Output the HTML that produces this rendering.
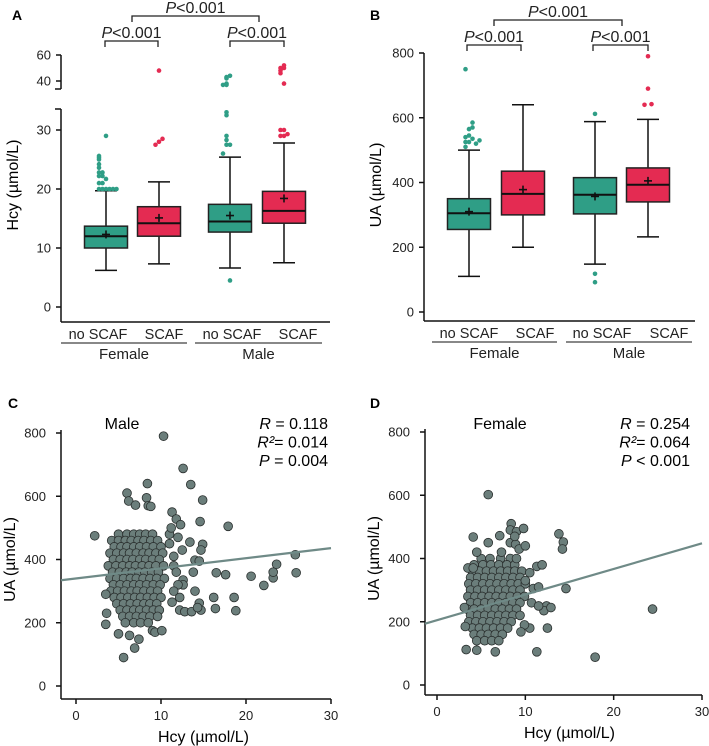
<!DOCTYPE html>
<html><head><meta charset="utf-8"><style>
body{margin:0;background:#fff}
svg{display:block;font-family:"Liberation Sans",Arial,sans-serif}
</style></head><body>
<svg id="fig" width="709" height="746" viewBox="0 0 709 746" xmlns="http://www.w3.org/2000/svg">
<g id="pA"></g>
<g id="pB"></g>
<g id="pC"></g>
<g id="pD"></g>
</svg>
<script>
// ---------- Data ----------
const groups = ["no SCAF","SCAF","no SCAF","SCAF"];
const sexes = ["Female","Male"];
const boxColors = ["#2f9e86","#e42b52","#2f9e86","#e42b52"];
// Panel A: Hcy  [whiskerLow, q1, median, q3, whiskerHigh, mean]
const hcyStats = [[6.2,10,12,13.7,19.7,12.3],[7.3,12,14.2,17,21.2,15.1],[6.6,12.7,14.5,17.4,25.4,15.5],[7.5,14.2,16.3,19.6,27.8,18.4]];
const hcyOutliers = [
 [20,20,20,20,20,20,21,21,21.7,22.2,22.2,22.8,22.8,23.6,24.2,25,25.3,25.6,29],
 [27.5,28,28.5,48],
 [4.5,26,27.5,27.5,28.3,29,32.5,33,37,37,38,42,43,44],
 [29,29,29.3,30,30,38,46,48,50,50,52]
];
const hcyJitter = [
 [-2,-1,0,1,2,3,-2,-1,0,-2,-1,-2,-1,-2,-2,-2,-2,-2,0],
 [-1,0,1,0],
 [0,-2,-1,0,-1,-1,-1,-1,-2,-1,-1,-1,-1,0],
 [-1,0,1,-1,0,0,-1,-1,-1,0,0]
];
// Panel B: UA
const uaStats = [[110,255,305,350,500,310],[200,300,365,435,640,378],[148,303,362,415,588,357],[232,340,393,445,595,405]];
const uaOutliers = [
 [510,520,525,525,530,535,540,545,565,570,585,750],
 [],
 [92,118,612],
 [640,642,690,790]
];
const uaJitter = [
 [-1,2,-1,0,3,1,-1,0,0,1,1,-1],
 [],
 [0,0,0],
 [-1,1,0,0]
];
// Panel C: male scatter
const maleHcy = [5,6,6.8,7.5,8.2,9, 4.2,5,5.8,6.5,7.3,8,8.8,9.6, 4.5,5.3,6,6.8,7.5,8.3,9.1,10, 4,4.8,5.6,6.3,7.1,7.9,8.6,9.4,10.2, 4.4,5.2,6,6.7,7.5,8.2,9,9.8, 3.8,4.7,5.5,6.3,7,7.8,8.6,9.4,10.3, 4.3,5.1,5.9,6.6,7.4,8.1,8.9,9.7, 4,4.8,5.6,6.4,7.1,7.9,8.7,9.5,10.4, 4.4,5.2,6,6.8,7.5,8.3,9.1,9.9, 4.1,4.9,5.7,6.5,7.2,8,8.8,9.6, 4.5,5.3,6.1,6.9,7.6,8.4,9.2,10, 4.8,5.6,6.4,7.2,8,8.7,9.5, 5.2,6,6.8,7.5,8.3,9.1,9.8, 5.5,6.3,7.1,7.9,8.7,9.6, 5.8,6.8,7.6,8.5,
 2.2,3.5,3.6,3.5,5.6,6.9,7.4,5.0,6.3,9.0,9.3,10.1,6.0,6.2,7.0,8.4,8.3,8.5,8.8,10.3,12.6,13.5,14.9,11.3,11.8,14.6,17.9,12.3,12,13.4,14.9,14.7,12.5,14,14.5,11.5,13.8,12.6,12.6,11.3,12.2,12.8,13.6,14.7,14.5,14.3,14,16.2,16.4,16.5,17.6,18.6,18.8,20.6,22.1,23.2,23.2,23.6,25.8,25.9,11,11,11.5,11.8,12,12.2,11.5,11.2];
const maleUA = [480,480,480,480,480,480, 460,460,460,460,460,460,460,460, 440,440,440,440,440,440,440,440, 420,420,420,420,420,420,420,420,420, 400,400,400,400,400,400,400,400, 380,380,380,380,380,380,380,380,380, 360,360,360,360,360,360,360,360, 340,340,340,340,340,340,340,340,340, 320,320,320,320,320,320,320,320, 300,300,300,300,300,300,300,300, 280,280,280,280,280,280,280,280, 260,260,260,260,260,260,260, 240,240,240,240,240,240,240, 220,220,220,220,220,220, 200,200,200,200,
 475,290,230,195,90,120,148,165,160,175,170,175,610,585,572,640,595,570,568,790,688,637,588,550,528,520,505,510,470,455,448,430,430,398,395,410,360,335,320,265,240,235,235,240,262,248,300,280,245,358,352,280,238,347,318,342,360,385,415,358,480,450,380,360,320,280,300,500];
// Panel D: female scatter
const femHcy = [5,6,7.2,8.3, 4.2,5.2,6.1,7,7.9,8.8, 4,4.8,5.6,6.4,7.2,8,8.8,9.6, 3.8,4.6,5.4,6.2,7,7.8,8.6,9.4, 3.6,4.4,5.2,6,6.8,7.6,8.4,9.2,10, 3.8,4.6,5.4,6.2,7,7.8,8.6,9.4, 3.5,4.3,5.1,5.9,6.7,7.5,8.3,9.1,9.9, 3.8,4.6,5.4,6.2,7,7.8,8.6,9.4, 3.4,4.2,5,5.8,6.6,7.4,8.2,9, 3.8,4.6,5.4,6.2,7,7.8,8.6,9.4, 3.6,4.4,5.2,6,6.8,7.6,8.4, 4,4.8,5.6,6.4,7.2,8, 4.2,5,5.8,6.6,7.4, 4.5,5.4,6.2,7,
 5.8,3.3,4.5,6.6,11.3,17.9,24.4,3.2,3.1,3.5,4.1,4.1,4.5,5.8,7.1,8.4,8.3,9,9.8,8.3,8.9,9.3,10,9,13.8,14.3,14.2,11.3,11.9,14.6,10.9,11.5,12.4,12.1,12.9,12.5,10.5,9.9,9.5,10.7,11.5,10,10.5,7.3,8.8];
const femUA = [400,400,400,400, 380,380,380,380,380,380, 360,360,360,360,360,360,360,360, 340,340,340,340,340,340,340,340, 320,320,320,320,320,320,320,320,320, 300,300,300,300,300,300,300,300, 280,280,280,280,280,280,280,280,280, 260,260,260,260,260,260,260,260, 240,240,240,240,240,240,240,240, 220,220,220,220,220,220,220,220, 200,200,200,200,200,200,200, 180,180,180,180,180,180, 160,160,160,160,160, 140,140,140,140,
 602,112,110,105,105,88,240,185,245,370,370,468,420,450,472,510,490,485,495,450,445,430,440,400,478,452,430,375,380,305,305,310,250,235,245,180,180,190,168,260,250,330,355,420,470];
const maleFit = [340, 3.2];   // intercept, slope
const femFit = [205, 8.1];
const uaTicks = [0,200,400,600,800];
const hcyTicksLow = [0,10,20,30];
const hcyTicksHigh = [40,60];
const xTicks = [0,10,20,30];

// ---------- Helpers ----------
const NS="http://www.w3.org/2000/svg";
function mk(parent,tag,attrs,text){const e=document.createElementNS(NS,tag);for(const k in attrs)e.setAttribute(k,attrs[k]);if(text!==undefined)e.textContent=text;parent.appendChild(e);return e;}
function line(p,x1,y1,x2,y2,w,c){return mk(p,"line",{x1,y1,x2,y2,stroke:c||"#111","stroke-width":w||1.5});}

// ---------- Box plot panels ----------
function boxPanel(g, cfg){
  const {axX, axBottom, axRight, yScale, stats, outliers, jitter, centers, labelX, sexLines, ticks, yLabel, letter, letterX, brackets, axisSegments} = cfg;
  let t=mk(g,"text",{x:letterX,y:20,"font-size":14,"font-weight":"bold"},letter);
  
  
  axisSegments.forEach(s=>{let l=line(g,axX,s[0],axX,s[1]);});
  let xl=line(g,axX,axBottom,axRight,axBottom);
  
  
  ticks.forEach(v=>{const y=yScale(v);line(g,axX-5,y,axX,y);
    let tt=mk(g,"text",{x:axX-10,y:y+4.5,"font-size":13,"text-anchor":"end",fill:"#222"},v);
    
    });
  let yl=mk(g,"text",{transform:`translate(${axX-43},185) rotate(-90)`,"font-size":16,"text-anchor":"middle"},yLabel);
  
  
  const bw=43;
  stats.forEach((s,i)=>{
    const cx=centers[i], col=boxColors[i];
    const bg=mk(g,"g",{});
    
    
    line(bg,cx,yScale(s[0]),cx,yScale(s[1]));
    line(bg,cx,yScale(s[3]),cx,yScale(s[4]));
    line(bg,cx-11,yScale(s[0]),cx+11,yScale(s[0]));
    line(bg,cx-11,yScale(s[4]),cx+11,yScale(s[4]));
    mk(bg,"rect",{x:cx-bw/2,y:yScale(s[3]),width:bw,height:yScale(s[1])-yScale(s[3]),fill:col,stroke:"#222","stroke-width":1.5});
    line(bg,cx-bw/2,yScale(s[2]),cx+bw/2,yScale(s[2]),2);
    const my=yScale(s[5]);
    line(bg,cx-4,my,cx+4,my,1.6);line(bg,cx,my-4,cx,my+4,1.6);
    outliers[i].forEach((v,j)=>{
      const d=mk(bg,"circle",{cx:cx+jitter[i][j]*3.5,cy:yScale(v),r:2.3,fill:col});
      
      
    });
    let gl=mk(g,"text",{x:labelX[i],y:axBottom+17,"font-size":14.5,"text-anchor":"middle",fill:"#222"},groups[i]);
    
    
  });
  [0,1].forEach(k=>{
    const a=sexLines[k][0],b=sexLines[k][1];
    line(g,a,axBottom+21,b,axBottom+21,1);
    let sl=mk(g,"text",{x:(a+b)/2,y:axBottom+37,"font-size":15,"text-anchor":"middle",fill:"#222"},sexes[k]);
    
    
  });
  brackets.forEach(br=>{
    const [x1,x2,y]=br;
    mk(g,"path",{d:`M${x1},${y+6}V${y}H${x2}V${y+6}`,fill:"none",stroke:"#222","stroke-width":1.3});
    const tx=mk(g,"text",{x:(x1+x2)/2,y:y-3,"font-size":16,"text-anchor":"middle",fill:"#222"});
    
    
    mk(tx,"tspan",{"font-style":"italic"},"P");mk(tx,"tspan",{},"<0.001");
  });
}
function hcyY(v){return v<=34 ? 307-v*5.9 : 81-(v-40)*1.3;}
boxPanel(document.getElementById("pA"),{axX:61,axBottom:322,axRight:330,yScale:hcyY,stats:hcyStats,outliers:hcyOutliers,jitter:hcyJitter,
  centers:[106,159,230,284],labelX:[98,164,232,298],sexLines:[[61,187],[195,322]],ticks:hcyTicksLow.concat(hcyTicksHigh),yLabel:"Hcy (µmol/L)",letter:"A",letterX:12,
  brackets:[[132,259,16],[105,158,41],[230,284,41]],axisSegments:[[55,89],[109,322]]});
// break ticks
line(document.getElementById("pA"),55,89,61,89);line(document.getElementById("pA"),55,109,61,109);
function uaY(v){return 312-v*259/800;}
boxPanel(document.getElementById("pB"),{axX:424,axBottom:321,axRight:695,yScale:uaY,stats:uaStats,outliers:uaOutliers,jitter:uaJitter,
  centers:[469,523,595,648],labelX:[469,535,602,669],sexLines:[[432,557],[566,692]],ticks:uaTicks,yLabel:"UA (µmol/L)",letter:"B",letterX:370,
  brackets:[[494,622,20],[467,521,45],[593,648,45]],axisSegments:[[53,321]]});

// ---------- Scatter panels ----------
function scatter(g,cfg){
  const {axX,x0,x30,y0,y800,axBottom,axRight,xs,ys,fit,title,titleX,stats,statsX,letter,letterX} = cfg;
  const X=v=>x0+(x30-x0)*v/30, Y=v=>y0+(y800-y0)*v/800;
  let t=mk(g,"text",{x:letterX,y:408,"font-size":14,"font-weight":"bold"},letter);
  
  
  let ya=line(g,axX,Y(800)-3,axX,axBottom);
  let xa=line(g,axX,axBottom,axRight,axBottom);
  uaTicks.forEach(v=>{line(g,axX-5,Y(v),axX,Y(v));
    let tt=mk(g,"text",{x:axX-15,y:Y(v)+4.5,"font-size":13,"text-anchor":"end",fill:"#222"},v);
    
    });
  xTicks.forEach(v=>{line(g,X(v),axBottom,X(v),axBottom+5);
    let tt=mk(g,"text",{x:X(v),y:axBottom+21,"font-size":13,"text-anchor":"middle",fill:"#222"},v);
    
    });
  let xt=mk(g,"text",{x:(X(0)+X(30))/2,y:axBottom+43,"font-size":16,"text-anchor":"middle"},"Hcy (µmol/L)");
  
  
  let yt=mk(g,"text",{transform:`translate(${axX-46},${(Y(0)+Y(800))/2}) rotate(-90)`,"font-size":16,"text-anchor":"middle"},"UA (µmol/L)");
  
  
  const pts=mk(g,"g",{});
  
  
  xs.forEach((v,i)=>{const c=mk(pts,"circle",{cx:X(v),cy:Y(ys[i]),r:4.4,fill:"#6b7e7b",stroke:"#2a2f2e","stroke-width":0.8});
    
    });
  const xa0=-(X(0)-axX)/((x30-x0)/30);
  const fl=mk(g,"line",{x1:axX,y1:Y(fit[0]+fit[1]*xa0),x2:X(30),y2:Y(fit[0]+fit[1]*30),stroke:"#6f8a87","stroke-width":2.2});
  
  
  let tl=mk(g,"text",{x:titleX,y:429,"font-size":16,"text-anchor":"middle"},title);
  
  
  const labs=[["R"," = "+stats[0]],["R²","= "+stats[1]],["P",stats[2]]];
  labs.forEach((l,i)=>{const tx=mk(g,"text",{x:statsX,y:429+i*18.5,"font-size":16,"text-anchor":"end"});
    
    
    mk(tx,"tspan",{"font-style":"italic"},l[0]);mk(tx,"tspan",{},l[1]);});
}
scatter(document.getElementById("pC"),{axX:61,x0:76,x30:331,y0:686,y800:433,axBottom:699,axRight:331,xs:maleHcy,ys:maleUA,fit:maleFit,
  title:"Male",titleX:122,stats:["0.118","0.014"," = 0.004"],statsX:328,letter:"C",letterX:8});
scatter(document.getElementById("pD"),{axX:425,x0:437,x30:702,y0:685,y800:432,axBottom:695,axRight:702,xs:femHcy,ys:femUA,fit:femFit,
  title:"Female",titleX:500,stats:["0.254","0.064"," < 0.001"],statsX:690,letter:"D",letterX:370});
</script>
</body></html>
